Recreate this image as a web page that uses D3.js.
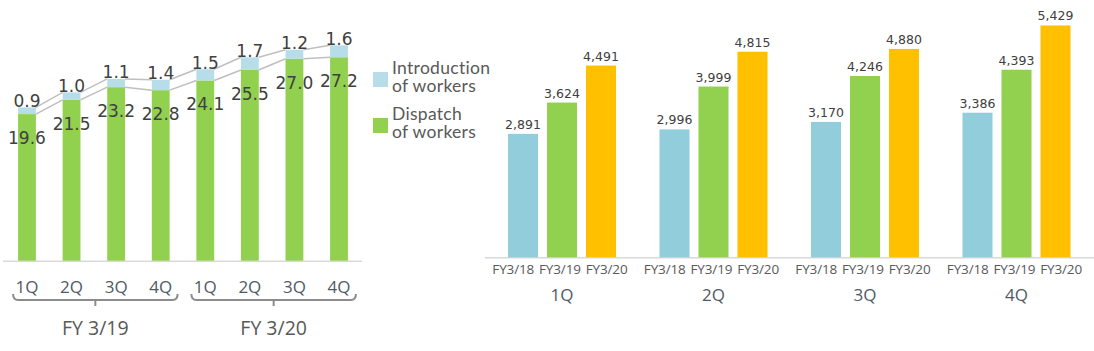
<!DOCTYPE html>
<html>
<head>
<meta charset="utf-8">
<script src="https://cdn.jsdelivr.net/npm/d3@7"></script>
<style>
  body { margin: 0; background: #fff; }
  svg { display: block; }
</style>
</head>
<body>
<div id="dataviz"></div>
<script>
// left chart data
var quarters = ["1Q", "2Q", "3Q", "4Q"];
var fiscalYears = ["FY 3/19", "FY 3/20"];
var dispatch = [19.6, 21.5, 23.2, 22.8, 24.1, 25.5, 27.0, 27.2];
var introduction = [0.9, 1.0, 1.1, 1.4, 1.5, 1.7, 1.2, 1.6];
var legendLabels = [["Introduction", "of workers"], ["Dispatch", "of workers"]];

// right chart data
var yearLabels = ["FY3/18", "FY3/19", "FY3/20"];
var groupValues = {
  "1Q": [2891, 3624, 4491],
  "2Q": [2996, 3999, 4815],
  "3Q": [3170, 4246, 4880],
  "4Q": [3386, 4393, 5429]
};

var W = 1094, H = 351;
var svg = d3.select("#dataviz").append("svg")
    .attr("width", W).attr("height", H);

var textColor = "#404040";
var labelFont = "'DejaVu Sans', Verdana, sans-serif";
var uiFont = "'Open Sans', 'Noto Sans', sans-serif";

// ---------- left chart ----------
var base = 260.7;
var idx = d3.range(dispatch.length);
var x = d3.scaleBand()
    .domain(idx)
    .range([4.7, 361.3])
    .paddingInner(0.6)
    .paddingOuter(0.3);
var y = d3.scaleLinear().domain([0, 30]).range([base, base - 224.4]);

var left = svg.append("g");

// axis line
left.append("line")
    .attr("x1", 3).attr("x2", 362)
    .attr("y1", base + 0.5).attr("y2", base + 0.5)
    .attr("stroke", "#d9d9d9").attr("stroke-width", 1.5);

// connector lines between bars
var totals = idx.map(function(i){ return dispatch[i] + introduction[i]; });
[dispatch, totals].forEach(function(series){
  for (var i = 0; i < series.length - 1; i++) {
    left.append("line")
        .attr("x1", x(i) + x.bandwidth()).attr("y1", y(series[i]))
        .attr("x2", x(i + 1)).attr("y2", y(series[i + 1]))
        .attr("stroke", "#bfbfbf").attr("stroke-width", 1.5);
  }
});

idx.forEach(function(i){
  left.append("rect")
      .attr("x", x(i)).attr("width", x.bandwidth())
      .attr("y", y(dispatch[i])).attr("height", base - y(dispatch[i]))
      .attr("fill", "#92d050");
  left.append("rect")
      .attr("x", x(i)).attr("width", x.bandwidth())
      .attr("y", y(totals[i])).attr("height", y(dispatch[i]) - y(totals[i]))
      .attr("fill", "#b7dee8");

  left.append("text")
      .attr("x", x(i) + x.bandwidth() / 2)
      .attr("y", y(dispatch[i]) + 30)
      .text(dispatch[i].toFixed(1))
      .style("font-family", labelFont).style("font-size", "17px")
      .style("fill", textColor).style("text-anchor", "middle");
  left.append("text")
      .attr("x", x(i) + x.bandwidth() / 2)
      .attr("y", y(totals[i]) - 0.5)
      .text(introduction[i].toFixed(1))
      .style("font-family", labelFont).style("font-size", "17px")
      .style("fill", textColor).style("text-anchor", "middle");

  left.append("text")
      .attr("x", x(i) + x.bandwidth() / 2)
      .attr("y", 293)
      .text(quarters[i % 4])
      .style("font-family", uiFont).style("font-size", "17px")
      .style("fill", "#505a66").style("text-anchor", "middle");
});

// fiscal year brackets
fiscalYears.forEach(function(fy, k){
  var x1 = x(k * 4) - 5, x2 = x(k * 4 + 3) + x.bandwidth() + 8;
  var mid = (x1 + x2) / 2;
  left.append("path")
      .attr("d", "M" + x1 + ",294 Q" + x1 + ",300 " + (x1 + 5) + ",300 H" + (x2 - 5) +
                 " Q" + x2 + ",300 " + x2 + ",294 M" + mid + ",300 V306")
      .attr("fill", "none").attr("stroke", "#8c8c8c").attr("stroke-width", 2);
  left.append("text")
      .attr("x", mid).attr("y", 335)
      .text(fy)
      .style("font-family", uiFont).style("font-size", "19.5px")
      .style("fill", "#595959").style("text-anchor", "middle");
});

// legend (two-line labels as one text with tspans)
var legendColors = ["#b7dee8", "#92d050"];
legendLabels.forEach(function(lines, k){
  var top = 72 + k * 46;
  svg.append("rect")
      .attr("x", 373).attr("y", top).attr("width", 15).attr("height", 15)
      .attr("fill", legendColors[k]);
  var t = svg.append("text")
      .attr("x", 392).attr("y", top + 1.5)
      .style("font-family", "Lato, sans-serif").style("font-size", "17.5px")
      .style("letter-spacing", "0.3px")
      .style("fill", "#595959");
  lines.forEach(function(s, j){
    t.append("tspan")
        .attr("x", 392).attr("dy", j === 0 ? 0 : 18.3)
        .text(s);
  });
});

// ---------- right chart ----------
var base2 = 257.3;
var x0 = d3.scaleBand().domain(quarters).range([486.25, 1092.25]);
var x1 = d3.scaleBand().domain(yearLabels).range([0, 117])
    .paddingInner(0.23).paddingOuter(0.115);
// category labels are spread a little wider than the bars
var xl = d3.scalePoint().domain(yearLabels).range([-46.7, 46.7]);
var y2 = d3.scaleLinear().domain([0, 6000]).range([base2, base2 - 256.2]);
var barColors = ["#92cddc", "#92d050", "#ffc000"];

var right = svg.append("g");
right.append("line")
    .attr("x1", 485).attr("x2", W)
    .attr("y1", base2 + 0.5).attr("y2", base2 + 0.5)
    .attr("stroke", "#d9d9d9").attr("stroke-width", 1.5);

quarters.forEach(function(q){
  var gx = x0(q) + (x0.bandwidth() - 117) / 2;
  var gc = x0(q) + x0.bandwidth() / 2;
  groupValues[q].forEach(function(v, j){
    var bx = gx + x1(yearLabels[j]);
    right.append("rect")
        .attr("x", bx).attr("width", x1.bandwidth())
        .attr("y", y2(v)).attr("height", base2 - y2(v))
        .attr("fill", barColors[j]);
    right.append("text")
        .attr("x", bx + x1.bandwidth() / 2)
        .attr("y", y2(v) - 5)
        .text(d3.format(",")(v))
        .style("font-family", labelFont).style("font-size", "12.5px")
        .style("fill", textColor).style("text-anchor", "middle");
    right.append("text")
        .attr("x", gc - 2 + xl(yearLabels[j]))
        .attr("y", 274)
        .attr("textLength", 42)
        .attr("lengthAdjust", "spacing")
        .text(yearLabels[j])
        .style("font-family", uiFont).style("font-size", "13.5px")
        .style("fill", "#595959").style("text-anchor", "middle");
  });
  right.append("text")
      .attr("x", gc)
      .attr("y", 301)
      .text(q)
      .style("font-family", uiFont).style("font-size", "17px")
      .style("fill", "#505a66").style("text-anchor", "middle");
});
</script>
</body>
</html>
